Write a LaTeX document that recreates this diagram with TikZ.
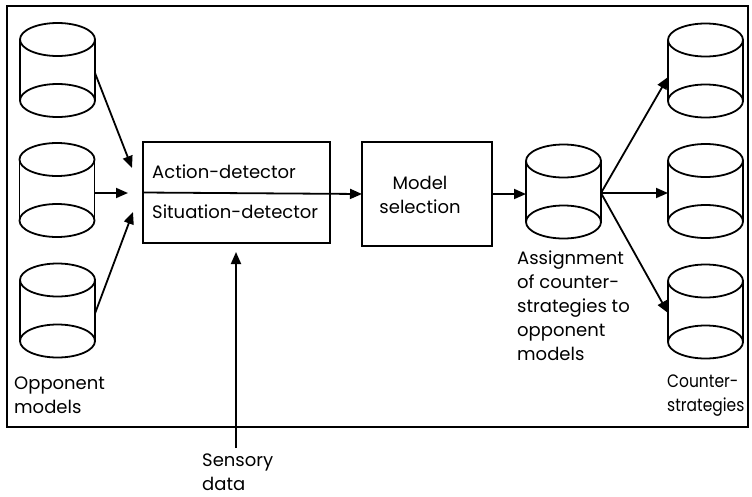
\documentclass[tikz,border=0pt]{standalone}
\usepackage{fontspec}
\setmainfont{Poppins}
\usetikzlibrary{arrows.meta,calc}
\tikzset{
  lw/.style={line width=1.8pt},
  cyl/.style={minimum width=75pt, minimum height=94pt, inner sep=0pt, outer sep=0pt},
  boxnode/.style={draw, lw, inner sep=0pt, outer sep=0pt},
  arr/.style={lw, -{Triangle[length=12pt,width=10pt]}},
  lbl/.style={align=left, anchor=west, inner sep=0pt, font=\fontsize{18}{24}\selectfont},
}
\newcommand{\drawcyl}[1]{%
  \draw[lw] ($(#1.north)+(0pt,-16.5pt)$) ellipse (37.5pt and 16.5pt);
  \draw[lw] ($(#1.south)+(0pt,16.5pt)$) ellipse (37.5pt and 16.5pt);
  \draw[lw] ($(#1.north west)+(0pt,-16.5pt)$) -- ($(#1.south west)+(0pt,16.5pt)$);
  \draw[lw] ($(#1.north east)+(0pt,-16.5pt)$) -- ($(#1.south east)+(0pt,16.5pt)$);
}
\newcommand{\narrow}[1]{\scalebox{0.86}[1]{#1}}
\begin{document}
\begin{tikzpicture}[x=1pt,y=-1pt]
\useasboundingbox (0,0) rectangle (752,496);
\draw[lw] (7,6) rectangle (748,427);
% cylinders
\node[cyl] (l1) at (57.5,70) {};
\node[cyl] (l2) at (57,190) {};
\node[cyl] (l3) at (57.5,310.5) {};
\node[cyl] (asg) at (563.5,191.5) {};
\node[cyl] (r1) at (705.5,70.5) {};
\node[cyl] (r2) at (705.5,191) {};
\node[cyl] (r3) at (705.5,311.5) {};
\foreach \n in {l1,l2,l3,asg,r1,r2,r3} {\drawcyl{\n}}
% boxes
\node[boxnode, minimum width=187pt, minimum height=101pt] (det) at (236.5,192.5) {};
\node[boxnode, minimum width=130pt, minimum height=104pt] (sel) at (427,194) {};
% texts
\node[lbl] (act) at (152,172) {Action-detector};
\node[lbl] (sit) at (152,212) {Situation-detector};
\node[lbl, align=center, anchor=center] (seltxt) at (420,194.5) {Model\\selection};
\node[lbl] (opp) at (14,395) {Opponent\\models};
\node[lbl] (sens) at (202,472) {Sensory\\data};
\node[lbl] (asgtxt) at (517,306) {Assignment\\of counter-\\strategies to\\opponent\\models};
\node[lbl] (cnt) at (667,396) {\narrow{Counter-}\\\narrow{strategies}};
% arrow end points
\coordinate (t1) at (132,168);
\coordinate (t2) at (128,193);
\coordinate (t3) at (133,212);
\coordinate (sb) at (236,448);
% connectors
\draw[arr] ($(l1.east)+(0pt,-3pt)$) -- (t1);
\draw[arr] ($(l2.east)+(0pt,-3pt)$) -- (t2);
\draw[arr] ($(l3.east)+(0pt,-3pt)$) -- (t3);
\draw[arr] (det.west) -- (sel.west);
\draw[arr] (sel.east) -- (sel.east -| asg.west);
\draw[arr, shorten >=9pt] (sb) -- (sb |- det.south);
\draw[arr] ($(asg.east)+(0pt,-1.5pt)$) -- ($(r1.west)+(0pt,-6.5pt)$);
\draw[arr] ($(asg.east)+(0pt,-1.5pt)$) -- ($(r2.west)+(0pt,-2pt)$);
\draw[arr] ($(asg.east)+(0pt,-1.5pt)$) -- ($(r3.west)+(0pt,-1.5pt)$);
\end{tikzpicture}
\end{document}
